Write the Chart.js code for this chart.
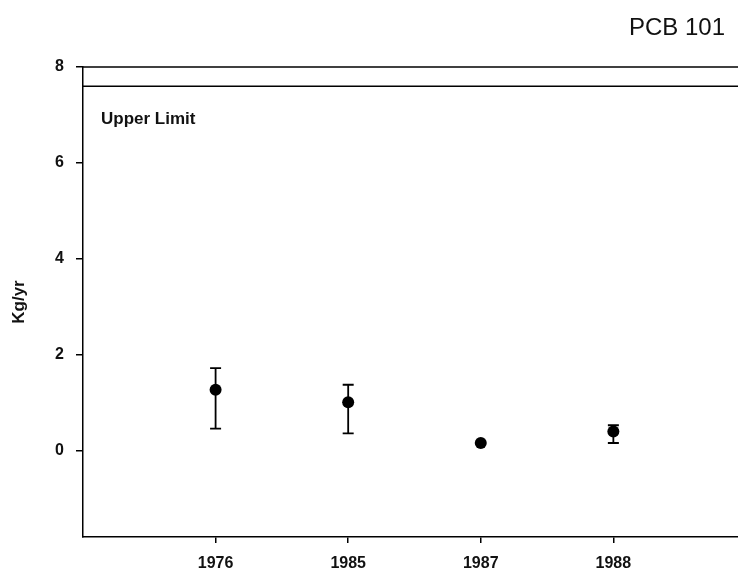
<!DOCTYPE html>
<html>
<head>
<meta charset="utf-8">
<script src="https://cdn.jsdelivr.net/npm/chart.js@4/dist/chart.umd.min.js"></script>
<style>
  html, body { margin: 0; padding: 0; background: #fff; }
  #wrap { width: 738px; height: 573px; }
</style>
</head>
<body>
<div id="wrap"><canvas id="myChart" width="738" height="573"></canvas></div>
<script>
// Данные
let years = ['1976', '1985', '1987', '1988'];
let means = [1.27, 1.01, 0.16, 0.40];
let lower = [0.46, 0.36, null, 0.16];
let upper = [1.72, 1.375, null, 0.53];
let upperLimit = 7.6;
let yTicks = [0, 2, 4, 6, 8];

let xMax = 4.94;
let font = "'Liberation Sans', Arial, sans-serif";

let canvas = document.querySelector('#myChart');
let ctx = canvas.getContext('2d');

let points = means.map((v, i) => ({ x: i + 1, y: v }));

// Усы погрешностей и подписи
let extras = {
  id: 'extras',
  afterDatasetsDraw(chart) {
    let c = chart.ctx;
    let xs = chart.scales.x;
    let ys = chart.scales.y;
    let area = chart.chartArea;
    c.save();
    c.strokeStyle = '#000';
    c.lineWidth = 1.8;
    for (let i = 0; i < means.length; i++) {
      if (lower[i] === null) continue;
      let px = xs.getPixelForValue(i + 1);
      let top = ys.getPixelForValue(upper[i]);
      let bot = ys.getPixelForValue(lower[i]);
      c.beginPath();
      c.moveTo(px, top); c.lineTo(px, bot);
      c.moveTo(px - 5.5, top); c.lineTo(px + 5.5, top);
      c.moveTo(px - 5.5, bot); c.lineTo(px + 5.5, bot);
      c.stroke();
    }
    // верхняя рамка
    c.lineWidth = 1.5;
    c.beginPath();
    c.moveTo(area.left, area.top); c.lineTo(area.right, area.top);
    c.stroke();

    c.fillStyle = '#111';
    c.font = 'bold 17px ' + font;
    c.textAlign = 'left';
    c.textBaseline = 'alphabetic';
    c.fillText('Upper Limit', area.left + 18, ys.getPixelForValue(upperLimit) + 38);

    c.font = '24px ' + font;
    c.textAlign = 'right';
    c.fillText('PCB 101', 725, 35);
    c.restore();
  }
};

let config = {
  type: 'scatter',
  data: {
    datasets: [
      {
        data: [{ x: 0, y: upperLimit }, { x: xMax, y: upperLimit }],
        showLine: true,
        pointRadius: 0,
        borderColor: '#000',
        borderWidth: 1.5
      },
      {
        data: points,
        pointRadius: 6,
        pointBackgroundColor: '#000',
        pointBorderColor: '#000',
        pointBorderWidth: 0
      }
    ]
  },
  options: {
    responsive: false,
    animation: false,
    layout: { autoPadding: false, padding: { top: 67, right: 0, left: 0, bottom: 0 } },
    scales: {
      x: {
        type: 'linear',
        min: 0,
        max: xMax,
        afterBuildTicks: (axis) => { axis.ticks = years.map((y, i) => ({ value: i + 1 })); },
        afterFit: (axis) => { axis.height = 36; },
        ticks: {
          callback: (v) => years[v - 1],
          color: '#111',
          font: { family: font, size: 16, weight: 'bold' },
          padding: 11,
          maxRotation: 0
        },
        border: { color: '#000', width: 1.5 },
        grid: { drawOnChartArea: false, color: '#000', lineWidth: 1.5, tickLength: 6 }
      },
      y: {
        min: -1.8,
        max: 8,
        afterBuildTicks: (axis) => { axis.ticks = yTicks.map(v => ({ value: v })); },
        afterFit: (axis) => { axis.width = 83; },
        ticks: {
          color: '#111',
          font: { family: font, size: 16, weight: 'bold' },
          padding: 12
        },
        title: {
          display: true,
          text: 'Kg/yr',
          color: '#111',
          font: { family: font, size: 17, weight: 'bold' },
          padding: { top: 9, bottom: 0 }
        },
        border: { color: '#000', width: 1.5 },
        grid: { drawOnChartArea: false, color: '#000', lineWidth: 1.5, tickLength: 7 }
      }
    },
    plugins: {
      legend: { display: false },
      tooltip: { enabled: false }
    }
  },
  plugins: [extras]
};

let chart = new Chart(ctx, config);
</script>
</body>
</html>
